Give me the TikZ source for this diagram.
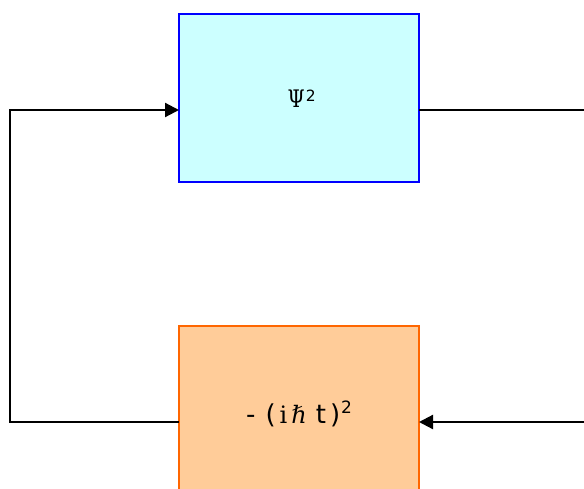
\documentclass[tikz,border=0pt]{standalone}
\usepackage{fontspec}
\setmainfont{DejaVu Serif}
\newfontfamily\labsans{DejaVu Sans}
\newfontfamily\labserif{DejaVu Serif}
\usetikzlibrary{arrows.meta}
\definecolor{cyanfill}{HTML}{CCFFFF}
\definecolor{blueline}{HTML}{0000FF}
\definecolor{orangefill}{HTML}{FFCC99}
\definecolor{orangeline}{HTML}{FF6600}
\newcommand{\supr}[3]{\raisebox{#1}{\labsans\fontsize{#2}{#2}\selectfont #3}}
\newcommand{\sn}[1]{{\labsans\fontsize{26}{28}\selectfont #1}}
\newcommand{\sr}[1]{{\labserif\fontsize{24}{28}\selectfont #1}}
\tikzset{
  box/.style={draw, line width=2.2pt, minimum width=240pt, minimum height=168pt, inner sep=0pt, outer sep=0pt, anchor=north west},
  conn/.style={draw=black, line width=2.2pt, -{Triangle[length=14pt,width=14pt]}},
  label/.style={inner sep=0pt, anchor=base west},
}
\begin{document}
\begin{tikzpicture}[x=1pt,y=-1pt]
\useasboundingbox (0,0) rectangle (584,488);
\clip (0,0) rectangle (584,488);
\node[box, draw=blueline, fill=cyanfill] (top) at (179,14) {};
\node[box, draw=orangeline, fill=orangefill] (bot) at (179,326) {};
\node[label] (ttext) at (287.5,107) {\scalebox{0.85}[1.05]{\labserif\fontsize{23}{24}\selectfont Ψ}\hspace{1pt}\supr{5.5pt}{15.5}{2}};
\node[label] (btext) at (246,423) {\sn{-}\hspace{10pt}\sn{(}\hspace{4pt}\sr{i}\hspace{4pt}\sr{ℏ}\hspace{9pt}\sn{t}\hspace{4pt}\sn{)}\hspace{1pt}\supr{10pt}{17}{2}};
\coordinate (rightx) at (600,300);
\coordinate (leftx) at (10,300);
\draw[conn] ([yshift=-12pt]top.east) -| (rightx) |- ([yshift=-12pt]bot.east);
\draw[conn] ([yshift=-12pt]bot.west) -| (leftx) |- ([yshift=-12pt]top.west);
\end{tikzpicture}
\end{document}
